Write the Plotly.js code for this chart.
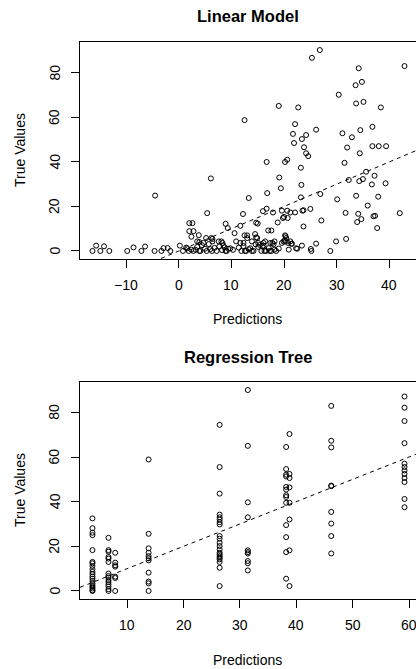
<!DOCTYPE html>
<html>
<head>
<meta charset="utf-8">
<script src="https://cdn.plot.ly/plotly-3.0.1.min.js"></script>
<style>
html, body { margin: 0; padding: 0; overflow: hidden; background: #fff; }
#chart { width: 440px; height: 669px; }
</style>
</head>
<body>
<div id="chart"></div>
<script>
// ---- Linear model: predictions vs true values ----
const lmPred = [
  -16.4, -15.7, -14.9, -14.2, -13.2, -9.8, -8.6, -7.1, -6.4, -4.6, -4.5, -3.3, -2.9, -2.1, -1.6,
  0.2, 0.8, 1.6, 2.0, 2.6, 2.0, 2.8, 2.4, 3.8,
  1.4, 1.9, 2.4, 2.8, 3.5, 3.9, 4.4, 5.0, 5.7, 6.3, 6.8, 7.2, 7.7, 8.2, 8.7, 9.1, 9.8, 11.4, 11.9,
  12.3, 12.8, 13.3, 13.9, 14.6, 15.1, 15.7, 16.1, 16.6, 17.1, 17.6, 18.0, 18.5, 19.0, 19.6, 20.3,
  20.9, 21.4,
  4.1, 5.3, 8.9, 12.6, 14.2, 16.3, 17.3, 18.2, 8.5, 9.4, 15.4, 15.9, 3.2, 6.0, 13.6, 10.3,
  3.5, 3.9, 4.7, 5.2, 6.2, 6.4, 7.6, 8.1, 8.3, 10.9, 11.7, 12.3, 13.0, 13.9, 14.9, 15.1, 16.1,
  16.4, 17.4, 17.8, 18.2, 19.9, 20.4, 21.2,
  5.4, 6.1, 6.4, 13.3, 8.9, 9.3, 10.6, 11.7, 12.2, 12.5, 12.5, 13.0, 14.5, 14.7, 14.7, 15.0,
  16.0, 16.7, 16.7, 16.8, 17.0, 17.6, 17.9, 18.8, 19.0, 19.1, 19.4, 19.6, 19.8, 20.0, 20.2, 20.6,
  20.3, 20.6, 20.7, 20.2, 20.1, 21.2, 21.7, 21.9, 22.1, 22.1, 22.7, 23.2, 23.3, 23.2, 23.4, 23.5,
  23.7, 23.7, 23.8, 24.2, 24.2, 24.6, 25.0, 25.3, 26.1, 26.1, 26.8, 26.9, 27.1, 21.5, 22.5, 23.4,
  25.1, 25.2, 28.8, 29.9, 30.1, 30.4, 31.1, 31.5, 31.7, 31.8, 32.0, 32.3, 32.9, 33.6, 33.7, 33.7,
  33.9, 34.1, 34.2, 34.3, 34.4, 34.5, 34.7, 34.8, 35.0, 35.1, 35.6, 35.9, 36.7, 36.8, 36.8, 37.0,
  37.3, 37.2, 37.7, 37.9, 38.0, 38.4, 39.3, 39.4, 42.0, 42.9, 22.3, 20.8
];
const lmTrue = [
  0, 2.4, 0, 2.1, 0, 0, 1.6, 0, 2.0, 0, 24.9, 0, 1.3, 1.3, 0,
  2.4, 0, 1.2, 12.5, 12.5, 8.9, 8.9, 6.4, 7.1,
  1.5, 0, 0.6, 0, 1.8, 0, 2.6, 1.0, 3.1, 0, 1.4, 0, 2.0, 0.4, 1.6, 0, 1.2, 1.5, 0,
  2.2, 0, 0.8, 0, 3.0, 1.8, 0, 2.4, 0, 1.3, 0, 3.0, 0, 1.1, 3.6, 4.2,
  0.6, 3.2,
  0, 0, 0, 0, 0, 0, 0, 0.6, 2.5, 1.0, 2.7, 2.0, 0.5, 0.8, 1.2, 0.5,
  4.3, 4.0, 3.6, 5.8, 5.8, 4.3, 4.3, 4.3, 3.6, 4.3, 3.6, 3.6, 5.8, 4.3, 5.8, 3.6, 3.6,
  4.3, 3.6, 3.6, 4.3, 4.3, 5.8, 4.3,
  17.0, 32.6, 5.4, 23.8, 12.2, 10.3, 8.0, 11.3, 16.6, 58.8, 7.0, 7.0, 7.6, 6.1, 12.7, 12.3,
  17.9, 19.0, 40.0, 26.0, 9.2, 9.2, 17.3, 12.8, 65.2, 33.0, 28.2, 18.1, 14.8, 15.3, 40.0, 41.0,
  6.6, 18.1, 14.8, 7.0, 4.7, 17.3, 52.6, 48.5, 57.0, 17.3, 64.5, 37.4, 29.7, 24.1, 50.3, 18.1,
  18.3, 11.0, 46.6, 52.1, 43.9, 42.6, 18.9, 86.8, 54.5, 3.3, 90.3, 25.6, 13.7, 3.3, 1.0, 2.4,
  0.9, 0, 0, 4.3, 23.2, 70.2, 52.9, 39.6, 17.1, 5.4, 46.5, 31.9, 51.1, 74.5, 66.3, 24.8,
  13.0, 16.7, 82.1, 31.4, 43.9, 54.3, 14.3, 76.0, 32.3, 67.0, 35.6, 20.4, 29.9, 55.8, 47.1, 15.6,
  15.8, 33.8, 10.3, 24.4, 47.1, 64.5, 30.4, 47.1, 17.0, 83.1, 1.2, 3.6
];

// ---- Regression tree: leaf predictions and the true values in each leaf ----
const treeLeaf = [3.84, 6.68, 7.87, 13.8, 26.4, 31.4, 38.2, 38.8, 46.2, 59.2];
const treeTrueByLeaf = [
  [32.5, 28.1, 26.1, 25.0, 18.3, 13.0, 12.4, 11.2, 9.7, 8.5, 7.5, 6.4, 5.5, 4.5, 3.4, 2.5, 1.8, 1.1, 0.3, 0],
  [23.8, 18.3, 17.6, 15.2, 14.5, 13.0, 7.8, 6.7, 6.0, 4.9, 4.0, 3.0, 2.0, 0.8, 0],
  [17.1, 12.7, 11.5, 10.9, 6.4, 5.8, 0],
  [58.9, 25.6, 19.1, 17.1, 15.6, 14.6, 13.7, 8.2, 4.2, 3.4, 0],
  [74.4, 55.5, 43.6, 34.2, 33.0, 32.0, 30.8, 29.8, 24.6, 23.4, 21.6, 20.1, 18.6, 17.1, 16.4, 15.6, 14.9, 14.2, 13.0, 10.4, 2.2],
  [90.0, 65.0, 39.7, 33.0, 18.2, 17.4, 16.8, 13.4, 12.4, 9.2],
  [64.5, 54.6, 52.1, 51.3, 46.6, 45.4, 42.9, 42.1, 39.5, 29.5, 24.1, 17.4, 5.5],
  [70.3, 52.4, 50.6, 46.4, 39.5, 32.0, 18.2, 2.2],
  [82.9, 67.3, 64.3, 47.2, 46.9, 35.4, 30.2, 24.6, 16.8],
  [87.1, 82.1, 76.1, 66.2, 57.0, 55.5, 54.0, 52.4, 50.6, 48.8, 41.2, 37.5]
];

// ---- text and ticks ----
const titles = ["Linear Model", "Regression Tree"];
const xLabel = "Predictions";
const yLabel = "True Values";
const lmXTicks = [-10, 0, 10, 20, 30, 40];
const treeXTicks = [10, 20, 30, 40, 50, 60];
const yTicks = [0, 20, 40, 60, 80];

// flatten tree table
const treePred = [], treeTrue = [];
treeLeaf.forEach((p, i) => treeTrueByLeaf[i].forEach(v => { treePred.push(p); treeTrue.push(v); }));

// R-style 4% padded ranges
function pad(arr) {
  const lo = Math.min(...arr), hi = Math.max(...arr), d = hi - lo;
  return [lo - 0.04 * d, hi + 0.04 * d];
}
const lmXR = pad(lmPred), lmYR = pad(lmTrue);
const trXR = pad(treePred), trYR = pad(treeTrue);

const W = 440, H = 669;
const px = v => v / W, py = v => 1 - v / H;

const mk = { symbol: 'circle-open', size: 5, color: '#000', line: { width: 1, color: '#000' } };
const dash = { color: '#000', width: 1, dash: '4px,4px' };

const traces = [
  { x: lmPred, y: lmTrue, type: 'scatter', mode: 'markers', marker: mk, xaxis: 'x', yaxis: 'y', hoverinfo: 'x+y' },
  { x: lmXR, y: lmXR, type: 'scatter', mode: 'lines', line: dash, xaxis: 'x', yaxis: 'y', hoverinfo: 'skip' },
  { x: treePred, y: treeTrue, type: 'scatter', mode: 'markers', marker: mk, xaxis: 'x2', yaxis: 'y2', hoverinfo: 'x+y' },
  { x: trXR, y: trXR, type: 'scatter', mode: 'lines', line: dash, xaxis: 'x2', yaxis: 'y2', hoverinfo: 'skip' }
];

const font = { family: 'Liberation Sans, Arial, Helvetica, sans-serif', size: 14, color: '#000' };
function ax(range, ticks, anchor, dom) {
  return {
    domain: dom, range: range, anchor: anchor, tickmode: 'array', tickvals: ticks,
    showline: true, mirror: true, linecolor: '#000', linewidth: 1,
    ticks: 'outside', ticklen: 8, tickwidth: 1, tickcolor: '#000',
    showticklabels: false, showgrid: false, zeroline: false, fixedrange: true
  };
}
const xDom = [px(80), px(417)];

const ann = [
  { text: '<b>' + titles[0] + '</b>', x: px(248), y: py(16), xref: 'paper', yref: 'paper', font: { family: font.family, size: 16.5, color: '#000' } },
  { text: '<b>' + titles[1] + '</b>', x: px(248), y: py(357), xref: 'paper', yref: 'paper', font: { family: font.family, size: 16.5, color: '#000' } },
  { text: xLabel, x: px(248), y: py(319), xref: 'paper', yref: 'paper', font: font },
  { text: xLabel, x: px(248), y: py(660), xref: 'paper', yref: 'paper', font: font },
  { text: yLabel, x: px(20), y: py(150), xref: 'paper', yref: 'paper', textangle: -90, font: font },
  { text: yLabel, x: px(20), y: py(490), xref: 'paper', yref: 'paper', textangle: -90, font: font }
];
// tick labels placed R-style (y labels parallel to the axis)
const fmt = v => (v < 0 ? '\u2212' + Math.abs(v) : String(v));
[['y', yTicks], ['y2', yTicks]].forEach(([a, t]) => t.forEach(v => ann.push({
  text: fmt(v), x: px(54.5), xref: 'paper', y: v, yref: a, textangle: -90, font: font
})));
[['x', lmXTicks, 285], ['x2', treeXTicks, 625]].forEach(([a, t, yp]) => t.forEach(v => ann.push({
  text: fmt(v), x: v, xref: a, y: py(yp), yref: 'paper', font: font
})));
ann.forEach(a => { a.showarrow = false; a.xanchor = 'center'; a.yanchor = 'middle'; });

const layout = {
  width: W, height: H, margin: { l: 0, r: 0, t: 0, b: 0 },
  paper_bgcolor: '#fff', plot_bgcolor: '#fff', showlegend: false, font: font,
  xaxis: ax(lmXR, lmXTicks, 'y', xDom),
  yaxis: ax(lmYR, yTicks, 'x', [py(259), py(42)]),
  xaxis2: ax(trXR, treeXTicks, 'y2', xDom),
  yaxis2: ax(trYR, yTicks, 'x2', [py(599), py(382)]),
  annotations: ann
};

Plotly.newPlot('chart', traces, layout, { displayModeBar: false, staticPlot: true });
</script>
</body>
</html>
